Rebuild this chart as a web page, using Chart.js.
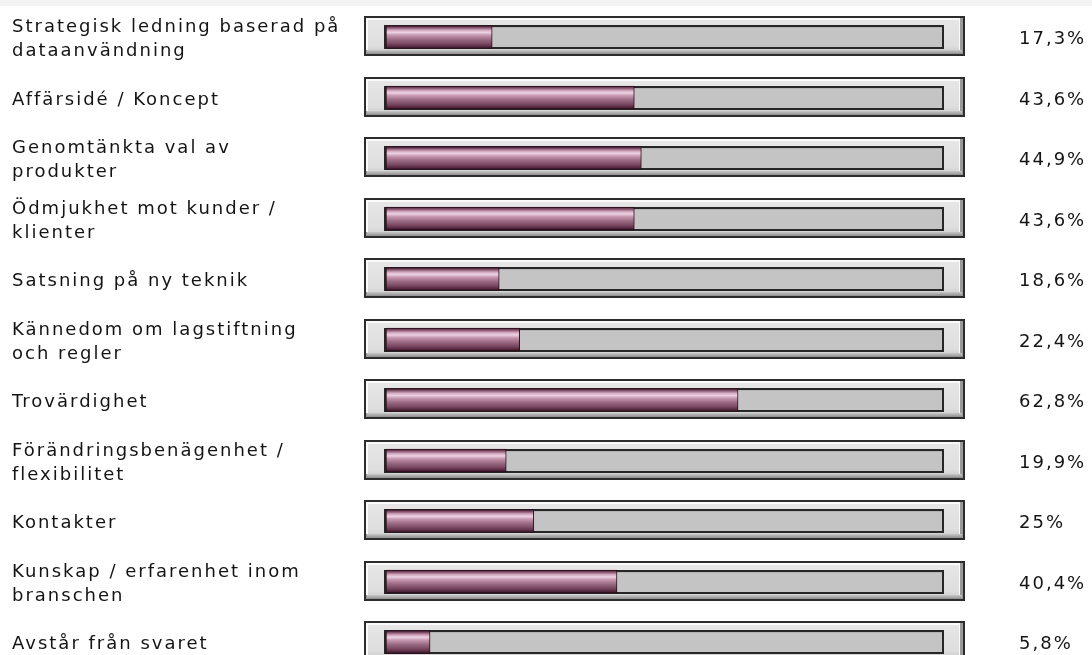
<!DOCTYPE html>
<html>
<head>
<meta charset="utf-8">
<script src="https://cdn.jsdelivr.net/npm/chart.js@4/dist/chart.umd.min.js"></script>
<style>
  html, body { margin: 0; padding: 0; background: #ffffff; }
  canvas { display: block; }
</style>
</head>
<body>
<canvas id="chart" width="1092" height="655"></canvas>
<script>
// Answer categories (multi-line labels as arrays)
const categories = [
  ['Strategisk ledning baserad på', 'dataanvändning'],
  'Affärsidé / Koncept',
  ['Genomtänkta val av', 'produkter'],
  ['Ödmjukhet mot kunder /', 'klienter'],
  'Satsning på ny teknik',
  ['Kännedom om lagstiftning', 'och regler'],
  'Trovärdighet',
  ['Förändringsbenägenhet /', 'flexibilitet'],
  'Kontakter',
  ['Kunskap / erfarenhet inom', 'branschen'],
  'Avstår från svaret'
];

// Share of respondents, percent
const shares = [17.3, 43.6, 44.9, 43.6, 18.6, 22.4, 62.8, 19.9, 25, 40.4, 5.8];

// Right-hand value labels, Swedish decimal comma
const shareLabels = shares.map(v => String(v).replace('.', ',') + '%');

// Value-axis extent: the frame spans the whole axis, the bar starts a little left of zero
const X_MIN = -6.42;
const X_MAX = 104.8;
const BAR_BASE = -2.35;

const FONT = { family: 'DejaVu Sans', size: 18, lineHeight: 1.333 };
const TEXT_COLOR = '#141414';

// Bevelled frame + grey track behind every bar
const framePlugin = {
  id: 'barFrames',
  beforeDraw(chart) {
    const { ctx, width } = chart;
    ctx.save();
    ctx.fillStyle = '#f3f3f3';
    ctx.fillRect(0, 0, width, 6);
    ctx.restore();
    ctx.letterSpacing = '2px';
  },
  beforeDatasetsDraw(chart) {
    const { ctx, chartArea, scales } = chart;
    const x0 = chartArea.left, x1 = chartArea.right;
    const w = x1 - x0;
    ctx.save();
    categories.forEach((_, i) => {
      const c = Math.round(scales.y.getPixelForValue(i));
      const top = c - 21, h = 40;
      // outer dark border
      ctx.fillStyle = '#2c2c2c';
      ctx.fillRect(x0, top, w, h);
      // shadow side (bottom / right)
      ctx.fillStyle = '#9a9a9a';
      ctx.fillRect(x0 + 2, top + 2, w - 4, h - 4);
      // highlight side (top / left)
      ctx.fillStyle = '#fafafa';
      ctx.fillRect(x0 + 2, top + 2, w - 7, h - 8);
      // face
      const g = ctx.createLinearGradient(0, top + 4, 0, top + h - 4);
      g.addColorStop(0, '#e6e6e6');
      g.addColorStop(0.8, '#dedede');
      g.addColorStop(1, '#cfcfcf');
      ctx.fillStyle = g;
      ctx.fillRect(x0 + 4, top + 4, w - 10, h - 9);
      // bottom shading band
      const sb = ctx.createLinearGradient(0, top + h - 6, 0, top + h - 2);
      sb.addColorStop(0, '#c8c8c8');
      sb.addColorStop(1, '#8e8e8e');
      ctx.fillStyle = sb;
      ctx.fillRect(x0 + 3, top + h - 6, w - 6, 4);
      // inner track
      const tx0 = x0 + 20, tx1 = x1 - 21;
      ctx.fillStyle = '#262626';
      ctx.fillRect(tx0, c - 12, tx1 - tx0, 24);
      ctx.fillStyle = '#c4c4c4';
      ctx.fillRect(tx0 + 2, c - 10, tx1 - tx0 - 4, 20);
      ctx.fillStyle = '#b4b4b4';
      ctx.fillRect(tx0 + 2, c - 10, tx1 - tx0 - 4, 1);
    });
    ctx.restore();
  }
};

function barGradient(context) {
  const chart = context.chart;
  if (!chart.chartArea || context.type !== 'data') return '#8a5670';
  const c = chart.scales.y.getPixelForValue(context.dataIndex);
  const g = chart.ctx.createLinearGradient(0, c - 11.5, 0, c + 11.5);
  g.addColorStop(0.00, '#3a1628');
  g.addColorStop(0.08, '#7a4862');
  g.addColorStop(0.20, '#d2a8be');
  g.addColorStop(0.30, '#ecd2e2');
  g.addColorStop(0.42, '#c698b0');
  g.addColorStop(0.60, '#9c6c84');
  g.addColorStop(0.80, '#784660');
  g.addColorStop(0.92, '#552840');
  g.addColorStop(1.00, '#381426');
  return g;
}

new Chart(document.getElementById('chart'), {
  type: 'bar',
  data: {
    labels: categories,
    datasets: [{
      data: shares,
      base: BAR_BASE,
      backgroundColor: barGradient,
      borderColor: '#2a0c1c',
      borderWidth: 1,
      borderSkipped: false,
      barThickness: 23,
      clip: false,
      yAxisID: 'y',
      xAxisID: 'x'
    }]
  },
  options: {
    indexAxis: 'y',
    responsive: false,
    animation: false,
    events: [],
    layout: { padding: { left: 12, right: 0, top: 37, bottom: 13 } },
    plugins: { legend: { display: false }, tooltip: { enabled: false } },
    scales: {
      x: { type: 'linear', min: X_MIN, max: X_MAX, display: false },
      y: {
        type: 'category',
        position: 'left',
        offset: false,
        grid: { display: false, drawTicks: false },
        border: { display: false },
        ticks: {
          autoSkip: false,
          crossAlign: 'far',
          padding: 0,
          labelOffset: 2.5,
          color: TEXT_COLOR,
          font: FONT
        },
        afterFit(scale) { scale.width = 352; scale.paddingTop = 0; scale.paddingBottom = 0; }
      },
      yRight: {
        type: 'category',
        position: 'right',
        labels: shareLabels,
        offset: false,
        grid: { display: false, drawTicks: false },
        border: { display: false },
        ticks: {
          autoSkip: false,
          crossAlign: 'near',
          padding: 54,
          labelOffset: 2.5,
          color: TEXT_COLOR,
          font: FONT
        },
        afterFit(scale) { scale.width = 127; scale.paddingTop = 0; scale.paddingBottom = 0; }
      }
    }
  },
  plugins: [framePlugin]
});
</script>
</body>
</html>
